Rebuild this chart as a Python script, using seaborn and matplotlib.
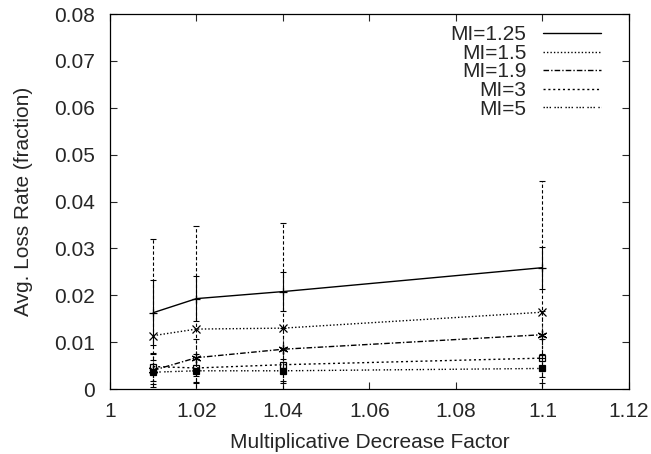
import matplotlib
matplotlib.use('Agg')
import matplotlib.pyplot as plt
from matplotlib.ticker import FormatStrFormatter, MultipleLocator
from matplotlib.lines import Line2D
import seaborn as sns
import pandas as pd

# datos
factores = [1.01, 1.02, 1.04, 1.1]
etiquetas = ['MI=1.25', 'MI=1.5', 'MI=1.9', 'MI=3', 'MI=5']
mi_125 = [0.0163, 0.0193, 0.0208, 0.0259]
mi_15 = [0.0114, 0.0128, 0.0130, 0.0164]
mi_19 = [0.0040, 0.0067, 0.0085, 0.0116]
mi_3 = [0.0048, 0.0045, 0.0052, 0.0066]
mi_5 = [0.0036, 0.0039, 0.0039, 0.0044]

err_125 = [0.0070, 0.0048, 0.0042, 0.0045]
err_15 = [0.0206, 0.0220, 0.0224, 0.0279]
err_19 = [0.0035, 0.0040, 0.0045, 0.0050]
err_3 = [0.0030, 0.0030, 0.0035, 0.0040]
err_5 = [0.0025, 0.0025, 0.0025, 0.0030]

valores = [mi_125, mi_15, mi_19, mi_3, mi_5]
errores = [err_125, err_15, err_19, err_3, err_5]

# estilos por serie
estilos = {
    'MI=1.25': dict(ls='-', marker='+', mfc='black', ms=6),
    'MI=1.5': dict(ls=(0, (1, 1.5)), marker='x', mfc='black', ms=5.5),
    'MI=1.9': dict(ls=(0, (4, 1.5, 1, 1.5)), marker=(6, 2, 0), mfc='black', ms=7),
    'MI=3': dict(ls=(0, (1.5, 2)), marker='s', mfc='none', ms=5),
    'MI=5': dict(ls=(0, (1, 1.2, 1, 1.2, 1, 2.5)), marker='s', mfc='black', ms=5),
}
estilo_barras = {
    'MI=1.25': '-', 'MI=1.5': (0, (3, 2)), 'MI=1.9': (0, (1, 2)),
    'MI=3': (0, (1, 2)), 'MI=5': (0, (1, 2)),
}

filas = []
for etq, vals in zip(etiquetas, valores):
    for f, v in zip(factores, vals):
        filas.append({'factor': f, 'perdida': v, 'serie': etq})
df = pd.DataFrame(filas)

sns.set_style('ticks')
plt.rcParams['font.family'] = ['Liberation Sans', 'DejaVu Sans']
tam = 15

fig = plt.figure(figsize=(6.51, 4.54), dpi=100)
ax = fig.add_axes([0.169, 0.143, 0.797, 0.826])

for etq, vals, errs in zip(etiquetas, valores, errores):
    st = estilos[etq]
    sub = df[df['serie'] == etq]
    sns.lineplot(data=sub, x='factor', y='perdida', ax=ax, color='black',
                 linewidth=1.0, linestyle='-', label=etq, legend=False)
    ln = ax.lines[-1]
    ln.set_linestyle(st['ls'])
    ln.set_marker(st['marker'])
    ln.set_markersize(st['ms'])
    ln.set_markerfacecolor(st['mfc'])
    ln.set_markeredgecolor('black')
    ln.set_markeredgewidth(0.9)
    cont = ax.errorbar(factores, vals, yerr=errs, fmt='none', ecolor='black',
                       elinewidth=0.8, capsize=2, capthick=0.8)
    cont[2][0].set_linestyle(estilo_barras[etq])

ax.set_xlim(1.0, 1.12)
ax.set_ylim(0, 0.08)
ax.xaxis.set_major_locator(MultipleLocator(0.02))
ax.yaxis.set_major_locator(MultipleLocator(0.01))
ax.xaxis.set_major_formatter(FormatStrFormatter('%g'))
ax.yaxis.set_major_formatter(FormatStrFormatter('%g'))
ax.tick_params(direction='in', top=True, right=True, labelsize=tam, length=5,
               width=0.8)
ax.tick_params(axis='x', pad=9)
ax.tick_params(axis='y', pad=11)
for s in ax.spines.values():
    s.set_linewidth(0.9)
    s.set_color('black')

ax.set_xlabel('Multiplicative Decrease Factor', fontsize=tam, labelpad=9)
ax.set_ylabel('Avg. Loss Rate (fraction)', fontsize=tam, labelpad=15)

# leyenda sin marcadores, texto a la izquierda
manejadores = [Line2D([], [], color='black', lw=1.0, ls=estilos[e]['ls']) for e in etiquetas]
ax.legend(manejadores, etiquetas, loc='upper right', bbox_to_anchor=(0.946, 0.97),
          frameon=False, markerfirst=False, fontsize=tam, handlelength=2.8,
          handletextpad=0.77, labelspacing=-0.02, borderaxespad=0, borderpad=0)

fig.savefig('out.png', dpi=100)
